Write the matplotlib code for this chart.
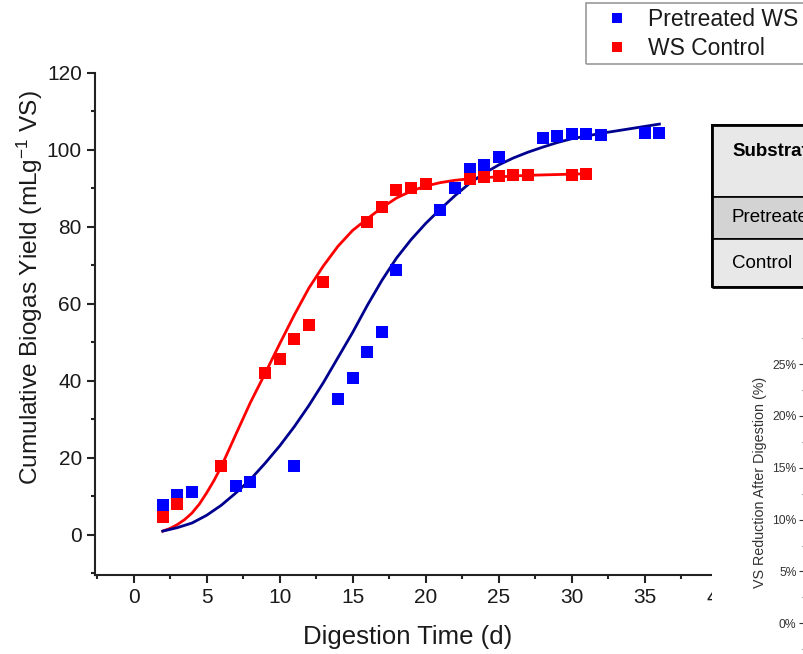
import matplotlib
matplotlib.use("Agg")
import matplotlib.pyplot as plt
from matplotlib.patches import Rectangle
from matplotlib.ticker import MultipleLocator, PercentFormatter

plt.rcParams["font.family"] = ["Liberation Sans", "DejaVu Sans"]
plt.rcParams["mathtext.fontset"] = "custom"
plt.rcParams["mathtext.rm"] = "Liberation Sans"
plt.rcParams["mathtext.it"] = "Liberation Sans:italic"

# measured points (day, mL/g VS)
days_pre = [2, 3, 4, 7, 8, 11, 14, 15, 16, 17, 18, 21, 22, 23, 24, 25, 28, 29, 30, 31, 32, 35, 36]
yield_pre = [7.8, 10.4, 11.1, 12.6, 13.6, 17.7, 35.3, 40.7, 47.4, 52.6, 68.7, 84.4, 90.0,
             95.0, 95.9, 98.1, 102.9, 103.4, 103.9, 103.9, 103.7, 104.2, 104.3]
days_ctrl = [2, 3, 6, 9, 10, 11, 12, 13, 16, 17, 18, 19, 20, 23, 24, 25, 26, 27, 30, 31]
yield_ctrl = [4.5, 8.0, 17.7, 42.0, 45.5, 50.8, 54.3, 65.5, 81.2, 85.1, 89.4, 90.0, 91.1,
              92.4, 92.8, 93.2, 93.3, 93.3, 93.5, 93.7]

# fitted curves
fit_days_pre = [2, 3, 4, 5, 6, 7, 8, 9, 10, 11, 12, 13, 14, 15, 16, 17, 18, 19, 20, 21, 22,
                23, 24, 25, 26, 27, 28, 29, 30, 31, 32, 33, 34, 35, 36]
fit_pre = [0.9, 1.8, 3.0, 5.0, 7.6, 10.8, 14.3, 18.5, 23.0, 28.0, 33.5, 39.5, 46.0, 52.5,
           59.5, 66.0, 71.8, 76.6, 80.8, 84.5, 88.0, 91.2, 93.8, 96.0, 97.8, 99.3, 100.6,
           101.8, 102.8, 103.5, 104.2, 104.8, 105.4, 106.0, 106.6]
fit_days_ctrl = [2, 2.5, 3, 3.5, 4, 4.5, 5, 5.5, 6, 7, 8, 9, 10, 11, 12, 13, 14, 15, 16, 17,
                 18, 19, 20, 21, 22, 23, 24, 25, 26, 27, 28, 29, 30, 31]
fit_ctrl = [0.9, 1.6, 2.6, 3.9, 5.6, 7.9, 10.8, 14.0, 17.6, 26.0, 34.3, 41.8, 49.5, 57.0,
            64.0, 69.8, 74.9, 79.0, 82.0, 84.9, 87.4, 89.2, 90.5, 91.4, 92.0, 92.4, 92.7,
            92.9, 93.1, 93.3, 93.4, 93.5, 93.6, 93.7]

labels = ["Pretreated WS", "WS Control"]
table_rows = ["Pretreated", "Control"]
table_header = "Substrate"

W, H = 804, 654


def fx(px):
    return px / W


def fy(py):
    return 1 - py / H


fig = plt.figure(figsize=(W / 100, H / 100), dpi=100)
ax = fig.add_axes([fx(95), fy(575), fx(804) - fx(95), fy(72.5) - fy(575)])

ax.plot(fit_days_ctrl, fit_ctrl, color="#ff0000", lw=2.0, zorder=2, solid_joinstyle="round")
ax.plot(fit_days_pre, fit_pre, color="#00008f", lw=2.0, zorder=3, solid_joinstyle="round")
h_pre, = ax.plot(days_pre, yield_pre, "s", color="#0000ff", ms=8.3, mew=0, zorder=4)
h_ctrl, = ax.plot(days_ctrl, yield_ctrl, "s", color="#ff0000", ms=8.3, mew=0, zorder=4)

ax.set_xlim(-2.64, 45.9)
ax.set_ylim(-10.5, 120)
ax.spines["top"].set_visible(False)
ax.spines["right"].set_visible(False)
for s in ["left", "bottom"]:
    ax.spines[s].set_linewidth(1.5)
    ax.spines[s].set_color("#222222")
ax.xaxis.set_major_locator(MultipleLocator(5))
ax.xaxis.set_minor_locator(MultipleLocator(2.5))
ax.yaxis.set_major_locator(MultipleLocator(20))
ax.yaxis.set_minor_locator(MultipleLocator(10))
ax.tick_params(which="major", direction="out", length=5.5, width=1.5, color="#222222",
               labelsize=15, pad=4, labelcolor="#1a1a1a")
ax.tick_params(which="minor", direction="out", length=3, width=1.5, color="#222222")
ax.set_yticks([0, 20, 40, 60, 80, 100, 120])

ax.set_xlabel("Digestion Time (d)", fontsize=18.5, color="#1a1a1a", va="center")
ax.xaxis.set_label_coords(0.441, -0.123)
ax.set_ylabel("Cumulative Biogas Yield (mLg$^{-1}$ VS)", fontsize=17.6, color="#1a1a1a",
              va="center")
ax.yaxis.set_label_coords(-0.092, 0.572)

# legend (box is cut by the right edge)
leg = fig.legend([h_pre, h_ctrl], labels, loc="upper left",
                 bbox_to_anchor=(fx(586), fy(3)), frameon=False, fontsize=16.5,
                 borderpad=0.2, labelspacing=0.3, handlelength=2.3, handletextpad=0.2,
                 borderaxespad=0, markerscale=0.85)
for t in leg.get_texts():
    t.set_color("#1a1a1a")
fig.patches.append(Rectangle((fx(586), fy(64)), fx(830) - fx(586), fy(3) - fy(64),
                             transform=fig.transFigure, fill=False, edgecolor="#9a9a9a",
                             lw=1.2, zorder=5))

# white area of the neighbouring panels
fig.patches.append(Rectangle((fx(712), 0), 1, fy(287), transform=fig.transFigure,
                             facecolor="white", edgecolor="none", zorder=2))

# table fragment
cells = [(125, 197, "#e8e8e8"), (197, 239, "#d3d3d3"), (239, 287, "#e8e8e8")]
for top, bot, col in cells:
    fig.patches.append(Rectangle((fx(712), fy(bot)), fx(840) - fx(712), fy(top) - fy(bot),
                                 transform=fig.transFigure, facecolor=col,
                                 edgecolor="black", lw=1.2, zorder=3))
fig.patches.append(Rectangle((fx(712), fy(287)), fx(840) - fx(712), fy(125) - fy(287),
                             transform=fig.transFigure, fill=False, edgecolor="black",
                             lw=2.0, zorder=4))
fig.text(fx(732), fy(152), table_header, fontsize=13.5, fontweight="bold", va="center",
         ha="left", zorder=6)
fig.text(fx(732), fy(218), table_rows[0], fontsize=13.5, va="center", ha="left", zorder=6)
fig.text(fx(732), fy(263), table_rows[1], fontsize=13.5, va="center", ha="left", zorder=6)

# fragment of the VS reduction panel
ax2 = fig.add_axes([1.0, 0, 0.2, fy(328)], zorder=6)
ax2.set_facecolor("none")
for s in ax2.spines.values():
    s.set_visible(False)
ax2.set_ylim(-2.96, 28.48)
ax2.set_xticks([])
ax2.yaxis.set_major_locator(MultipleLocator(5))
ax2.yaxis.set_minor_locator(MultipleLocator(2.5))
ax2.yaxis.set_major_formatter(PercentFormatter(decimals=0))
ax2.tick_params(which="major", direction="out", length=3.8, width=0.8, color="#333333",
                labelsize=8.7, pad=1.6, labelcolor="#333333")
ax2.tick_params(which="minor", direction="out", length=1.5, width=0.8, color="#555555")
fig.text(fx(760), fy(482), "VS Reduction After Digestion (%)", rotation=90, fontsize=10.3,
         ha="center", va="center", color="#333333", zorder=7)

fig.savefig("out.png", dpi=100)
